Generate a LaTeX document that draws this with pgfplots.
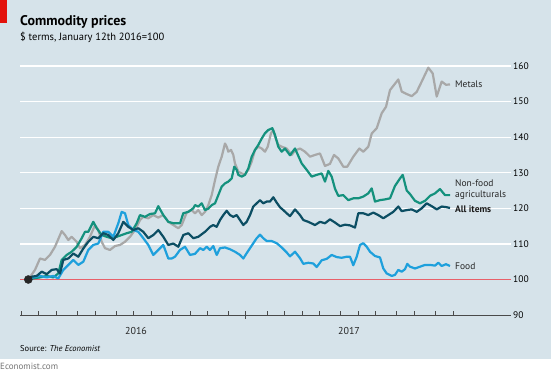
\documentclass[border=0pt]{standalone}
\usepackage{pgfplots}
\pgfplotsset{compat=1.18}
\usepackage{pgfplotstable}
\usepackage{fontspec}
\setmainfont{PT Sans}
\definecolor{bg}{HTML}{D6E3EA}
\definecolor{econred}{HTML}{E3120B}
\definecolor{redline}{HTML}{E8606A}
\definecolor{axisgray}{HTML}{4A4A4A}
\definecolor{metals}{HTML}{A8A8A8}
\definecolor{nonfood}{HTML}{14917D}
\definecolor{allitems}{HTML}{0C4E63}
\definecolor{food}{HTML}{1EA0DC}

% t = position along the time axis (Jan 1 2016 = 21.8, Jan 1 2017 = 245), v = index
\pgfplotstableread{
t v
28.3 100
35 102.7
40 105.9
45 105.5
50 106.9
55 109.2
61.7 113.6
65 112.5
68.3 111.1
71.7 112
76.7 110.6
80 108.8
85 109.7
90 112
95 115.3
98.3 113.9
101.7 110.6
105 108.8
110 108.3
115 109.4
120 109.7
125 110.6
130 112
135 113.9
140 116.7
143.3 117.6
148.3 117.2
153.3 118.1
158.3 117.4
163.3 118.1
168.3 116.2
173.3 115.3
178.3 114.4
181.7 115.3
186.7 118.8
191.7 119.5
195 118.6
198.3 119.5
201.7 118.1
205 119
208.3 120.9
211.7 123.7
215 127.9
218.3 131.7
221.7 134.5
225 138.2
226.7 137.3
228.3 135.9
231 136.4
233.3 135
235 132.6
238.3 130.3
241.7 129.8
245 129.6
248.3 130.8
251.7 133.1
255 136.4
258.3 137.3
261.7 136.8
265 135.9
267.7 137.3
271 141.1
273.3 142
275 140.1
278.3 137.8
281.7 137.3
286.7 136.8
291.7 135
295 136.2
300 136.8
305 135.9
310 134.5
315 135
320 135.4
325 131.9
330 132.5
334 135
338.3 134
343.3 131.7
347.3 131.7
353.3 134.5
359.3 136.8
363.3 135.9
368.3 137.3
371.7 141
376.7 142.5
381.7 146.7
386 148.5
390 153.2
398.3 156.2
401.7 152.8
406.7 152.1
411.7 151.5
416.7 152.7
421.7 155.6
428.3 159.5
432.7 157.9
436.7 151.4
441.7 155.6
446 154.7
450 154.8
}\metals

\pgfplotstableread{
t v
28.3 100
33.3 100.3
40 100.6
46.7 101
53.3 100.6
58.3 101.7
61.7 105.5
66.7 106.9
71.7 107.8
76.7 109.2
81.7 111.6
85 113.4
88.3 113.4
93.3 116.2
96.7 114.4
101.7 112.5
106.7 112
111.7 111.6
116.7 112
121.7 112.5
126.7 113
131.7 113.4
136.7 115.8
140 118.1
145 117.6
150 118.4
155 118.6
158.3 120.6
163.3 118.1
168.3 116.2
173.3 115.8
180 115.8
183.3 118.6
188.3 119
193.3 120
195 120.9
198.3 120.5
201.7 121.4
205 119.5
208.3 119.9
211.7 120.9
215 121.4
218.3 123.7
221.7 126.1
225 127
228.3 127.5
231.7 128.4
234.3 131.7
236.7 130.8
238.3 129.4
241.7 128.9
245 129.4
248.3 131.2
251.7 134.5
255 136.4
258.3 137.8
261.7 139.6
265 141.1
268.3 142
272.3 142.5
275 140.6
278.3 137.3
281.7 135.9
285 136.8
290 134.9
295 136.8
301.7 132.6
306.7 130.8
311.7 128.9
316.7 129.4
321.7 129.8
325 127.5
328.3 130.5
331.7 128.9
335 125.5
338.3 123.5
343.3 123.7
348.3 122.3
353.3 122.8
358.3 122.8
363.3 123.3
368.3 124.2
371.7 125.6
375 121.9
380 122.3
385 122.5
390 122.8
395 126.3
400 128.4
402.7 129.4
406.7 125
410 124
415 122.1
420 121.4
425 122.1
430 123.5
435 124.2
440 125.4
445 123.7
450 123.7
}\nonfood

\pgfplotstableread{
t v
28.3 100
33.3 100.6
40 101
46.7 100.6
53.3 101
58.3 100.3
63.3 102.7
68.3 104.1
73.3 105.5
78.3 104.1
83.3 105
88.3 108.3
93.3 109.7
98.3 110.1
103.3 113.4
108.3 113.4
113.3 112
118.3 115.8
121.7 119
125 118.6
128.3 115.3
133.3 113.9
138.3 113.4
143.3 111.6
148.3 109.7
153.3 106.9
158.3 108.3
163.3 109.7
168.3 105.9
171.7 105.9
175 106.4
180 108.3
185 109.2
190 106.9
195 107.2
200 108.8
203.3 108.3
206.7 109.2
210 108.3
213.3 109.4
216.7 106.9
220 108.8
225 109
230 108.5
235 107.8
240 106.9
243.3 105.9
246.7 107.4
250 108.8
253.3 110.2
256.7 111.6
260 112.6
263.3 111.6
266.7 110.8
271.7 110.8
276.7 110.2
281.7 109
286.7 107.6
290 106.5
295 107.8
300 106
303.3 104.4
308.3 104.7
313.3 104.5
316.7 103.5
321.7 105.4
326.7 105.8
331.7 106.9
336.7 106.3
341.7 106.1
346.7 106.4
350 106.4
353.3 104
356.7 106.4
360 109.7
363.3 110.2
366.7 109.2
370 107.8
375 106.6
380 106.2
383.3 103.1
386.7 101.7
391.7 101
395 101.3
398.3 102.7
401.7 102.2
405 102.9
407.3 104.4
410 103.6
415 103.1
420 103.6
425 104.1
430 104.1
435 103.9
438.3 104.7
441.7 103.8
446 104.3
450 103.8
}\food

\pgfplotstableread{
t v
28.3 100
31.7 100.8
36.7 101
41.7 102.2
46.7 101.5
51.7 102.7
56.7 102.9
60 101.7
63.3 105.5
68.3 105.9
73.3 107.3
78.3 106.4
83.3 108.7
88.3 110.6
93.3 112
98.3 111.6
103.3 113
108.3 112.5
113.3 111.1
118.3 113
123.3 116.2
128.3 114.8
133.3 113.9
138.3 114.4
143.3 113.4
148.3 111.6
153.3 112.5
158.3 113.9
163.3 112
168.3 109.7
173.3 110.1
178.3 109.2
183.3 112.5
188.3 113
193.3 111.6
198.3 112
205 113.4
210 114.8
213.3 115.3
216.7 114.8
220 116.7
223.3 118.1
226.7 119.3
230 118.1
233.3 117.6
236.7 118.1
240 116.7
243.3 115.3
246.7 116.2
250 118.1
253.3 120.5
256.7 121.4
260 122.3
263.3 121.4
266.7 121.9
270 121.9
273.3 123.1
276.7 121.6
280 120.3
283.3 119.5
286.7 118.6
290 117.8
295 119.7
300 118.1
303.3 116.7
308.3 116.2
315 115.3
320 116.2
325 115.8
330 116.9
335 116
340 115
345 115.4
350 115.2
355 114.6
358.3 118.6
363.3 118.6
368.3 118.1
373.3 118.8
378.3 118.1
383.3 117.2
388.3 118.1
393.3 119
398.3 120.5
401.7 119.2
406.7 119.5
411.7 119.7
416.7 119
421.7 120
426.7 121.4
431.7 120.6
436.7 119.7
441.7 120.5
446.7 120.3
450 120.1
}\allitems

\begin{document}
\begin{tikzpicture}
\path[use as bounding box] (0,0) rectangle (551pt,-372pt);
\fill[white] (0,0) rectangle (551pt,-372pt);
\fill[bg] (0,0) rectangle (551pt,-359pt);
\fill[econred] (0,0) rectangle (7pt,-23pt);
\node[anchor=base west, inner sep=0pt, font=\fontsize{14}{16}\selectfont\bfseries] at (20pt,-25pt) {Commodity prices};
\node[anchor=base west, inner sep=0pt, font=\fontsize{10.5}{12}\selectfont] at (20pt,-40.5pt) {\$ terms, January 12th 2016=100};
\node[anchor=base west, inner sep=0pt, font=\fontsize{8.5}{10}\selectfont] at (20pt,-351.5pt) {Source: \textit{The Economist}};
\node[anchor=base west, inner sep=0pt, font=\fontsize{9}{10}\selectfont, text=black!55] at (0pt,-369pt) {Economist.com};

% time axis line and month ticks (drawn in picture coordinates: axis spans x 20..511 pt, y=90 at -315.1 pt)
\fill[axisgray] (20pt,-315.5pt) rectangle (511pt,-314.7pt);
\foreach \t in {21.8,38.6,56,77,95,116,133.5,151,172,190,207,228,267,284,302,319,340,358,375,396,414,435,453}{
  \fill[axisgray] (\t pt-0.5pt,-315.1pt) rectangle (\t pt+0.5pt,-311.2pt);
}
\fill[axisgray] (244.5pt,-318.6pt) rectangle (245.5pt,-310.6pt);
% 100 reference line
\fill[redline] (20pt,-280.1pt) rectangle (511pt,-278.8pt);

\begin{axis}[
  at={(20pt,-315.1pt)}, anchor=south west,
  scale only axis, width=491pt, height=249.2pt,
  xmin=20, xmax=511, ymin=90, ymax=160,
  clip=false,
  axis x line=none, axis y line*=right,
  y axis line style={draw=none},
  ytick={110,120,130,140,150,160},
  extra y ticks={90,100},
  extra y tick style={grid=none},
  ymajorgrids,
  major grid style={draw=white, line width=1.2pt},
  ytick style={draw=none},
  yticklabel style={font=\fontsize{9.5}{11}\selectfont, anchor=west, inner sep=0pt, xshift=2pt},
  /pgf/number format/assume math mode=true,
  every axis plot/.append style={line width=2.2pt, line join=round, no markers},
]
\addplot[metals] table {\metals};
\addplot[nonfood] table {\nonfood};
\addplot[food] table {\food};
\addplot[allitems] table {\allitems};
\addplot[only marks, mark=*, mark size=4pt, black!85, line width=0.5pt] coordinates {(28.3,100)};

\node[anchor=west, inner sep=0pt, font=\fontsize{9.5}{11}\selectfont, text=black!85] at (axis cs:455,154.9) {Metals};
\node[anchor=west, inner sep=0pt, align=left, font=\fontsize{9.5}{11}\selectfont, text=black!85] at (axis cs:455,125.3) {Non-food\\agriculturals};
\node[anchor=west, inner sep=0pt, font=\fontsize{9.5}{11}\selectfont\bfseries, text=black!90] at (axis cs:455,119.8) {All items};
\node[anchor=west, inner sep=0pt, font=\fontsize{9.5}{11}\selectfont, text=black!85] at (axis cs:455,103.7) {Food};
\node[font=\fontsize{10}{12}\selectfont, text=black!85] at (axis cs:136,90) [yshift=-16pt] {2016};
\node[font=\fontsize{10}{12}\selectfont, text=black!85] at (axis cs:349,90) [yshift=-16pt] {2017};
\end{axis}
\end{tikzpicture}
\end{document}
